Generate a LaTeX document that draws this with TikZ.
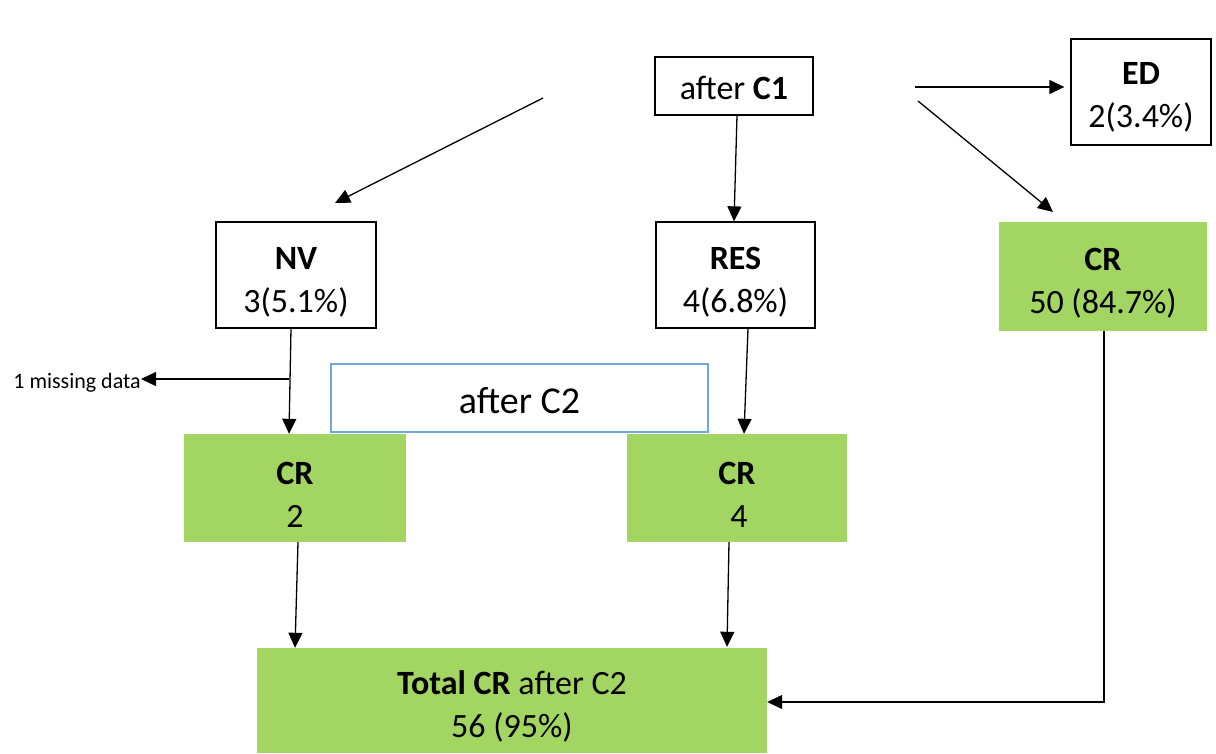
\documentclass[tikz,border=0pt]{standalone}
\usepackage{fontspec}
\setmainfont{Carlito}
\usetikzlibrary{arrows.meta}
\definecolor{crgreen}{HTML}{A2D561}
\definecolor{boxblue}{HTML}{6FA8DC}
\newcommand\dnstrut[1]{\rule{0pt}{#1}}
\tikzset{
  wbox/.style={draw=black, line width=1.3pt, fill=white, inner sep=0pt, align=center,
    font=\fontsize{34}{43}\selectfont},
  gbox/.style={fill=crgreen, draw=none, inner sep=0pt, align=center,
    font=\fontsize{34}{43}\selectfont},
  arr/.style={line width=1.3pt, -{Triangle[length=15pt,width=14pt]}},
}
\begin{document}
\begin{tikzpicture}[x=1pt,y=-1pt]
\useasboundingbox (0,0) rectangle (1216,753);
\node[wbox, minimum width=158pt, minimum height=58pt] (c1) at (734,86) {\dnstrut{28pt}after \textbf{C1}};
\node[wbox, minimum width=140pt, minimum height=106pt] (ed) at (1141,92) {\dnstrut{32pt}\textbf{ED}\\2(3.4\%)};
\node[wbox, minimum width=160pt, minimum height=106pt] (nv) at (296,275) {\dnstrut{36pt}\textbf{NV}\\3(5.1\%)};
\node[wbox, minimum width=159pt, minimum height=106pt] (res) at (735.5,275) {\dnstrut{36pt}\textbf{RES}\\4(6.8\%)};
\node[gbox, minimum width=208pt, minimum height=109pt] (cr1) at (1103,276.5) {\dnstrut{36pt}\textbf{CR}\\50 (84.7\%)};
\node[draw=boxblue, line width=1.2pt, fill=white, inner sep=0pt,
  minimum width=377pt, minimum height=68pt, font=\fontsize{38}{46}\selectfont] (c2) at (519.5,398) {\dnstrut{32pt}after C2};
\node[gbox, minimum width=222pt, minimum height=108pt] (crl) at (295,488) {\dnstrut{36pt}\textbf{CR}\\2};
\node[gbox, minimum width=220pt, minimum height=108pt] (crm) at (737,488) {\dnstrut{36pt}\textbf{CR}\\\hspace*{4pt}4};
\node[gbox, minimum width=510pt, minimum height=105pt] (tot) at (512,700.5) {\dnstrut{36pt}\textbf{Total CR} after C2\\56 (95\%)};
\node[anchor=east, inner sep=0pt, font=\fontsize{22}{26}\selectfont] (miss) at (141,383) {1 missing data};

\coordinate (l1) at (543,98);
\coordinate (l2) at (335,203);
\coordinate (r1) at (918,101);
\coordinate (r2) at (1053,212);
\coordinate (e1) at (915,87);
\coordinate (b1) at (289,379);

\draw[arr] (l1) -- (l2);
\draw[arr] (e1) -- ([xshift=-6pt,yshift=5pt]ed.west);
\draw[arr] (r1) -- (r2);
\draw[arr] ([xshift=3pt]c1.south) -- ([xshift=-1.5pt]res.north);
\draw[arr] ([xshift=-5pt]nv.south) -- ([xshift=-6pt]crl.north);
\draw[arr] (b1) -- (miss.east |- b1);
\draw[arr] ([xshift=12.5pt]res.south) -- ([xshift=7pt]crm.north);
\draw[arr] ([xshift=3pt]crl.south) -- ([xshift=-217pt]tot.north);
\draw[arr] ([xshift=-8pt]crm.south) -- ([xshift=215pt,yshift=1pt]tot.north);
\draw[arr] ([xshift=1pt]cr1.south) |- ([yshift=-1.5pt]tot.east);
\end{tikzpicture}
\end{document}
